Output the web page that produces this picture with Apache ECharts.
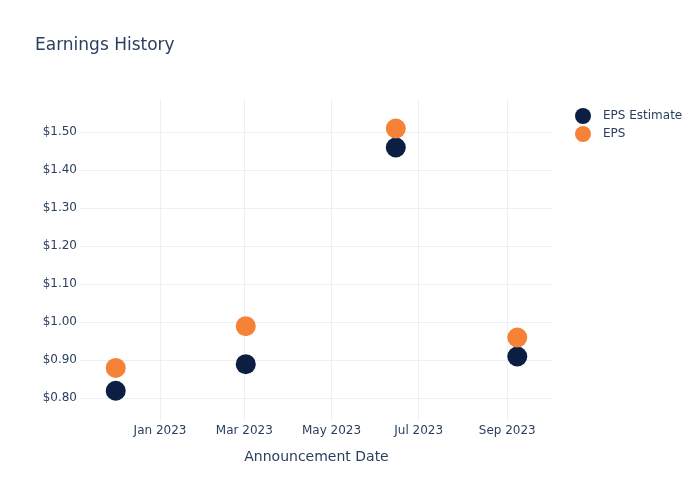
<!DOCTYPE html>
<html>
<head>
<meta charset="utf-8">
<script src="https://cdn.jsdelivr.net/npm/echarts@6/dist/echarts.min.js"></script>
<style>html,body{margin:0;padding:0;background:#fff}#c{width:700px;height:500px}</style>
</head>
<body>
<div id="c"></div>
<script>
const dates = ['2022-12-01', '2023-03-02', '2023-06-15', '2023-09-08'];
const epsEstimate = [0.82, 0.89, 1.46, 0.91];
const eps = [0.88, 0.99, 1.51, 0.96];
const xTicks = ['2023-01-01', '2023-03-01', '2023-05-01', '2023-07-01', '2023-09-01'];
const yTicks = [0.8, 0.9, 1.0, 1.1, 1.2, 1.3, 1.4, 1.5];
const xRange = ['2022-11-06', '2023-10-03'];
const yRange = [0.743, 1.585];

const months = ['Jan','Feb','Mar','Apr','May','Jun','Jul','Aug','Sep','Oct','Nov','Dec'];
function ts(s) { const p = s.split('-').map(Number); return Date.UTC(p[0], p[1] - 1, p[2]); }
const font = '"DejaVu Sans", sans-serif';
const txt = '#2a3f5f';
const grid = '#ebf0f8';

const chart = echarts.init(document.getElementById('c'), null, {renderer: 'canvas'});
chart.setOption({
  animation: false,
  backgroundColor: '#fff',
  textStyle: {fontFamily: font},
  title: {
    text: 'Earnings History', left: 30, top: 32,
    textStyle: {fontFamily: font, fontSize: 17, fontWeight: 'normal', color: txt}
  },
  legend: {
    orient: 'vertical', left: 570, top: 103, itemGap: 2,
    itemWidth: 16, itemHeight: 16, icon: 'circle',
    textStyle: {fontFamily: font, fontSize: 12, color: txt, padding: [0, 0, 0, 7]},
    data: ['EPS Estimate', 'EPS']
  },
  grid: {left: 80, top: 100, right: 147, bottom: 80, containLabel: false},
  xAxis: {
    type: 'value',
    min: ts(xRange[0]), max: ts(xRange[1]),
    name: 'Announcement Date', nameLocation: 'middle', nameGap: 30,
    nameTextStyle: {fontFamily: font, fontSize: 14, color: txt},
    axisLine: {show: false},
    axisTick: {show: false, customValues: xTicks.map(ts)},
    axisLabel: {
      customValues: xTicks.map(ts), margin: 5,
      fontFamily: font, fontSize: 12, color: txt,
      formatter: v => { const d = new Date(v); return months[d.getUTCMonth()] + ' ' + d.getUTCFullYear(); }
    },
    splitLine: {show: true, lineStyle: {color: grid, width: 1}}
  },
  yAxis: {
    type: 'value', min: yRange[0], max: yRange[1],
    axisLine: {show: false},
    axisTick: {show: false, customValues: yTicks},
    axisLabel: {
      customValues: yTicks, margin: 3,
      fontFamily: font, fontSize: 12, color: txt,
      formatter: v => '$' + v.toFixed(2)
    },
    splitLine: {show: true, lineStyle: {color: grid, width: 1}}
  },
  series: [
    {
      name: 'EPS Estimate', type: 'scatter', symbolSize: 20,
      itemStyle: {color: '#0c1f42', opacity: 1},
      data: dates.map((d, i) => [ts(d), epsEstimate[i]])
    },
    {
      name: 'EPS', type: 'scatter', symbolSize: 20,
      itemStyle: {color: '#f58237', opacity: 1},
      data: dates.map((d, i) => [ts(d), eps[i]])
    }
  ]
});
</script>
</body>
</html>
